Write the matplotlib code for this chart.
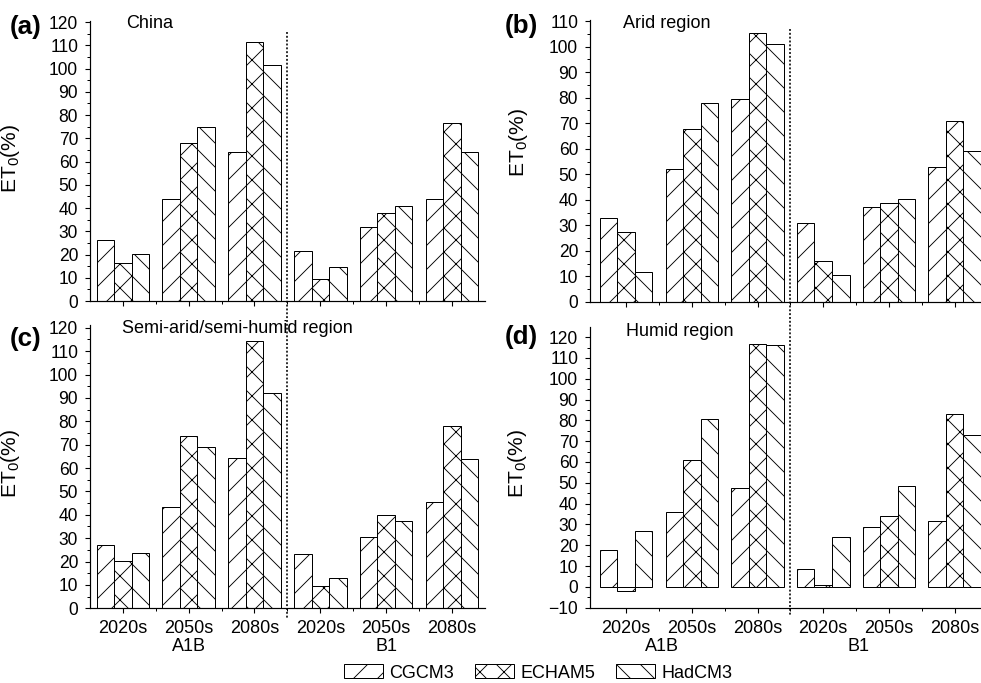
import numpy as np
import matplotlib.pyplot as plt
from matplotlib.patches import Patch
from matplotlib.lines import Line2D
from matplotlib import transforms

plt.rcParams['font.family'] = ['Liberation Sans', 'DejaVu Sans']
plt.rcParams['mathtext.default'] = 'regular'
plt.rcParams['hatch.linewidth'] = 0.9

# %% data (ET0 change, %)
periods = ['2020s', '2050s', '2080s', '2020s', '2050s', '2080s']
scenarios = ['A1B', 'B1']
models = ['CGCM3', 'ECHAM5', 'HadCM3']
hatches = ['/', 'x', '\\']

china_cg = [26.2, 44.0, 64.2, 21.6, 32.0, 43.7]
china_ec = [16.5, 68.1, 111.5, 9.3, 37.7, 76.7]
china_hd = [20.1, 75.0, 101.5, 14.8, 41.0, 64.2]

arid_cg = [32.8, 52.1, 79.3, 30.8, 37.3, 52.7]
arid_ec = [27.3, 67.7, 105.2, 16.2, 38.6, 70.7]
arid_hd = [11.9, 78.0, 101.1, 10.4, 40.3, 59.1]

semi_cg = [27.1, 43.4, 64.4, 23.4, 30.3, 45.3]
semi_ec = [20.4, 73.8, 114.4, 9.4, 39.9, 77.9]
semi_hd = [23.5, 69.0, 92.0, 12.8, 37.5, 63.8]

humid_cg = [17.6, 36.0, 47.5, 8.8, 28.8, 31.5]
humid_ec = [-2.1, 61.0, 116.6, 1.0, 33.9, 83.0]
humid_hd = [26.7, 80.6, 116.2, 24.1, 48.3, 72.8]

# %% layout helpers (pixel -> figure fraction)
W, H = 981, 683
fig = plt.figure(figsize=(W / 72, H / 72), dpi=72)


def box(l, r, top, bottom):
    return [l / W, 1 - bottom / H, (r - l) / W, (bottom - top) / H]


def panel(rect, xlim, ylim, yticks, series, title, tag, tag_xy, title_xy,
          ylab_xy, bottom=False, group_x=(1, 4)):
    ax = fig.add_axes(rect)
    x = np.arange(len(periods))
    w = 0.267
    for k, vals in enumerate(series):
        ax.bar(x + (k - 1) * w, vals, w, color='white', edgecolor='black',
               linewidth=1.0, hatch=hatches[k])
    ax.set_xlim(*xlim)
    ax.set_ylim(*ylim)
    ax.set_yticks(yticks)
    ax.set_yticks(np.arange(yticks[0], yticks[-1] + 1, 5), minor=True)
    ax.set_xticks(x)
    ax.set_xticks(x[:-1] + 0.5, minor=True)
    ax.spines[['top', 'right']].set_visible(False)
    ax.spines[['left', 'bottom']].set_linewidth(1.2)
    ax.tick_params(which='major', direction='out', length=5, width=1.1,
                   labelsize=17.5, pad=7)
    ax.tick_params(which='minor', direction='out', length=3, width=1.0)
    if bottom:
        ax.set_xticklabels(periods, fontsize=18)
        tr = transforms.blended_transform_factory(ax.transData, fig.transFigure)
        for gx, s in zip(group_x, scenarios):
            ax.text(gx, 1 - 646.5 / H, s, fontsize=18, ha='center',
                    va='center', transform=tr)
    else:
        ax.set_xticklabels([])
    ax.set_ylabel('ET$_0$(%)', fontsize=21)
    # label position given in pixels
    l, b, wd, ht = rect
    ax.yaxis.set_label_coords((ylab_xy[0] / W - l) / wd,
                              ((1 - ylab_xy[1] / H) - b) / ht)
    fig.text(tag_xy[0] / W, 1 - tag_xy[1] / H, tag, fontsize=26,
             fontweight='bold', ha='left', va='center')
    fig.text(title_xy[0] / W, 1 - title_xy[1] / H, title, fontsize=18,
             ha='left', va='center')
    return ax


ax_a = panel(box(90, 90 + 6 * 65.8, 21, 301), (-0.5, 5.5), (0, 120.5),
             np.arange(0, 121, 10), [china_cg, china_ec, china_hd],
             'China', '(a)', (10, 27), (126, 23), (22, 158))
ax_b = panel(box(590, 590 + 6.05 * 65.7, 20, 302), (-0.55, 5.5), (0, 110.4),
             np.arange(0, 111, 10), [arid_cg, arid_ec, arid_hd],
             'Arid region', '(b)', (505, 26), (623, 24), (530, 142))
ax_c = panel(box(90, 90 + 6 * 65.8, 325, 608.3), (-0.5, 5.5), (0, 121.2),
             np.arange(0, 121, 10), [semi_cg, semi_ec, semi_hd],
             'Semi-arid/semi-humid region', '(c)', (10, 339), (122, 329),
             (22, 463), bottom=True)
ax_d = panel(box(590, 590 + 6.05 * 65.7, 326.7, 607.7), (-0.55, 5.5), (-10, 125),
             np.arange(-10, 121, 10), [humid_cg, humid_ec, humid_hd],
             'Humid region', '(d)', (505, 337), (626, 331), (529, 463),
             bottom=True, group_x=(0.55, 3.53))

# dotted separators between A1B and B1 (span both rows)
for ax, y0, y1 in [(ax_a, 32, 618), (ax_b, 29, 615)]:
    tr = transforms.blended_transform_factory(ax.transData, fig.transFigure)
    fig.add_artist(Line2D([2.5, 2.5], [1 - y0 / H, 1 - y1 / H], transform=tr,
                          color='black', linestyle=(0, (1.2, 1.2)), linewidth=1.6))

handles = [Patch(facecolor='white', edgecolor='black', hatch=h, linewidth=1.0)
           for h in hatches]
fig.legend(handles, models, loc='center', bbox_to_anchor=(538 / W, 1 - 673 / H),
           ncol=3, frameon=False, fontsize=18, handlelength=2.17,
           handleheight=0.8, handletextpad=0.35, columnspacing=1.15,
           borderpad=0, borderaxespad=0)

fig.savefig('out.png', dpi=72)
